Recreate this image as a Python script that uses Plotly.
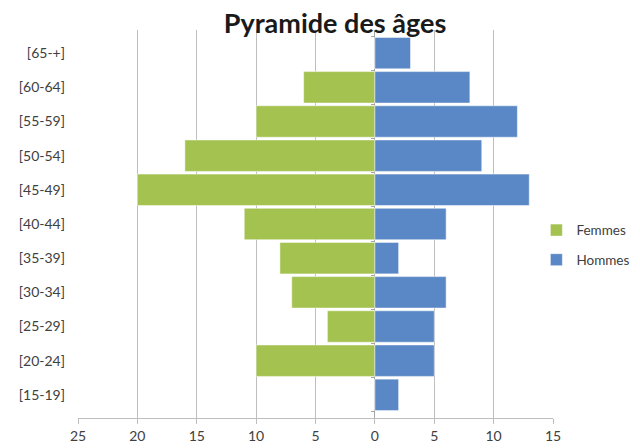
import plotly.graph_objects as go

categories = ["[15-19]", "[20-24]", "[25-29]", "[30-34]", "[35-39]", "[40-44]",
              "[45-49]", "[50-54]", "[55-59]", "[60-64]", "[65-+]"]
femmes = [0, 10, 4, 7, 8, 11, 20, 16, 10, 6, 0]
hommes = [2, 5, 5, 6, 2, 6, 13, 9, 12, 8, 3]
tick_vals = [-25, -20, -15, -10, -5, 0, 5, 10, 15]
tick_text = ["25", "20", "15", "10", "5", "0", "5", "10", "15"]

X_MIN, X_MAX = -25, 15
# the page body has an 8px default margin, so the figure is sized to fit
W, H = 632, 440

fig = go.Figure()
fig.add_trace(go.Bar(
    y=categories, x=[-v for v in femmes], orientation="h", name="Femmes",
    legendgroup="f",
    marker=dict(color="#A3C24F", line=dict(color="white", width=0.5)),
))
fig.add_trace(go.Bar(
    y=categories, x=hommes, orientation="h", name="Hommes",
    legendgroup="h",
    marker=dict(color="#5A87C5", line=dict(color="white", width=0.5)),
))
# invisible trace carrying the zero-position category axis (ticks only)
fig.add_trace(go.Scatter(
    y=categories, x=[0] * len(categories), yaxis="y2", mode="markers",
    marker=dict(opacity=0), showlegend=False, hoverinfo="skip",
))

fig.update_layout(
    width=W, height=H,
    barmode="overlay", bargap=0.08,
    plot_bgcolor="white", paper_bgcolor="white",
    margin=dict(l=70, r=87, t=22, b=30, autoexpand=False),
    font=dict(family="Lato", size=14, color="#404040"),
    title=dict(text="<b>Pyramide des âges</b>", x=327/W, xanchor="center",
               y=1 - 16/H, yanchor="middle", yref="container",
               font=dict(family="Lato", size=27, color="#1a1a1a")),
    legend=dict(x=0.965, xanchor="left", y=0.445, yanchor="middle",
                traceorder="grouped", font=dict(size=13.5, color="#404040"),
                bgcolor="rgba(0,0,0,0)",
                itemwidth=30, tracegroupgap=9),
    xaxis=dict(range=[X_MIN, X_MAX], tickvals=tick_vals, ticktext=tick_text,
               showgrid=True, gridcolor="#BEBEBE", gridwidth=1,
               zeroline=True, zerolinecolor="#A6A6A6", zerolinewidth=1,
               showline=True, linecolor="#BEBEBE", ticks="outside",
               ticklen=5, tickcolor="#BEBEBE", fixedrange=True),
    yaxis=dict(categoryorder="array", categoryarray=categories,
               showgrid=False, ticks="", showline=False,
               ticklabelstandoff=12),
    yaxis2=dict(categoryorder="array", categoryarray=categories,
                overlaying="y", matches="y", anchor="free",
                position=(0 - X_MIN) / (X_MAX - X_MIN),
                showticklabels=False, showgrid=False, showline=False,
                ticks="outside", tickson="boundaries", ticklen=4,
                tickcolor="#A6A6A6"),
)

fig.write_html("out.html")
